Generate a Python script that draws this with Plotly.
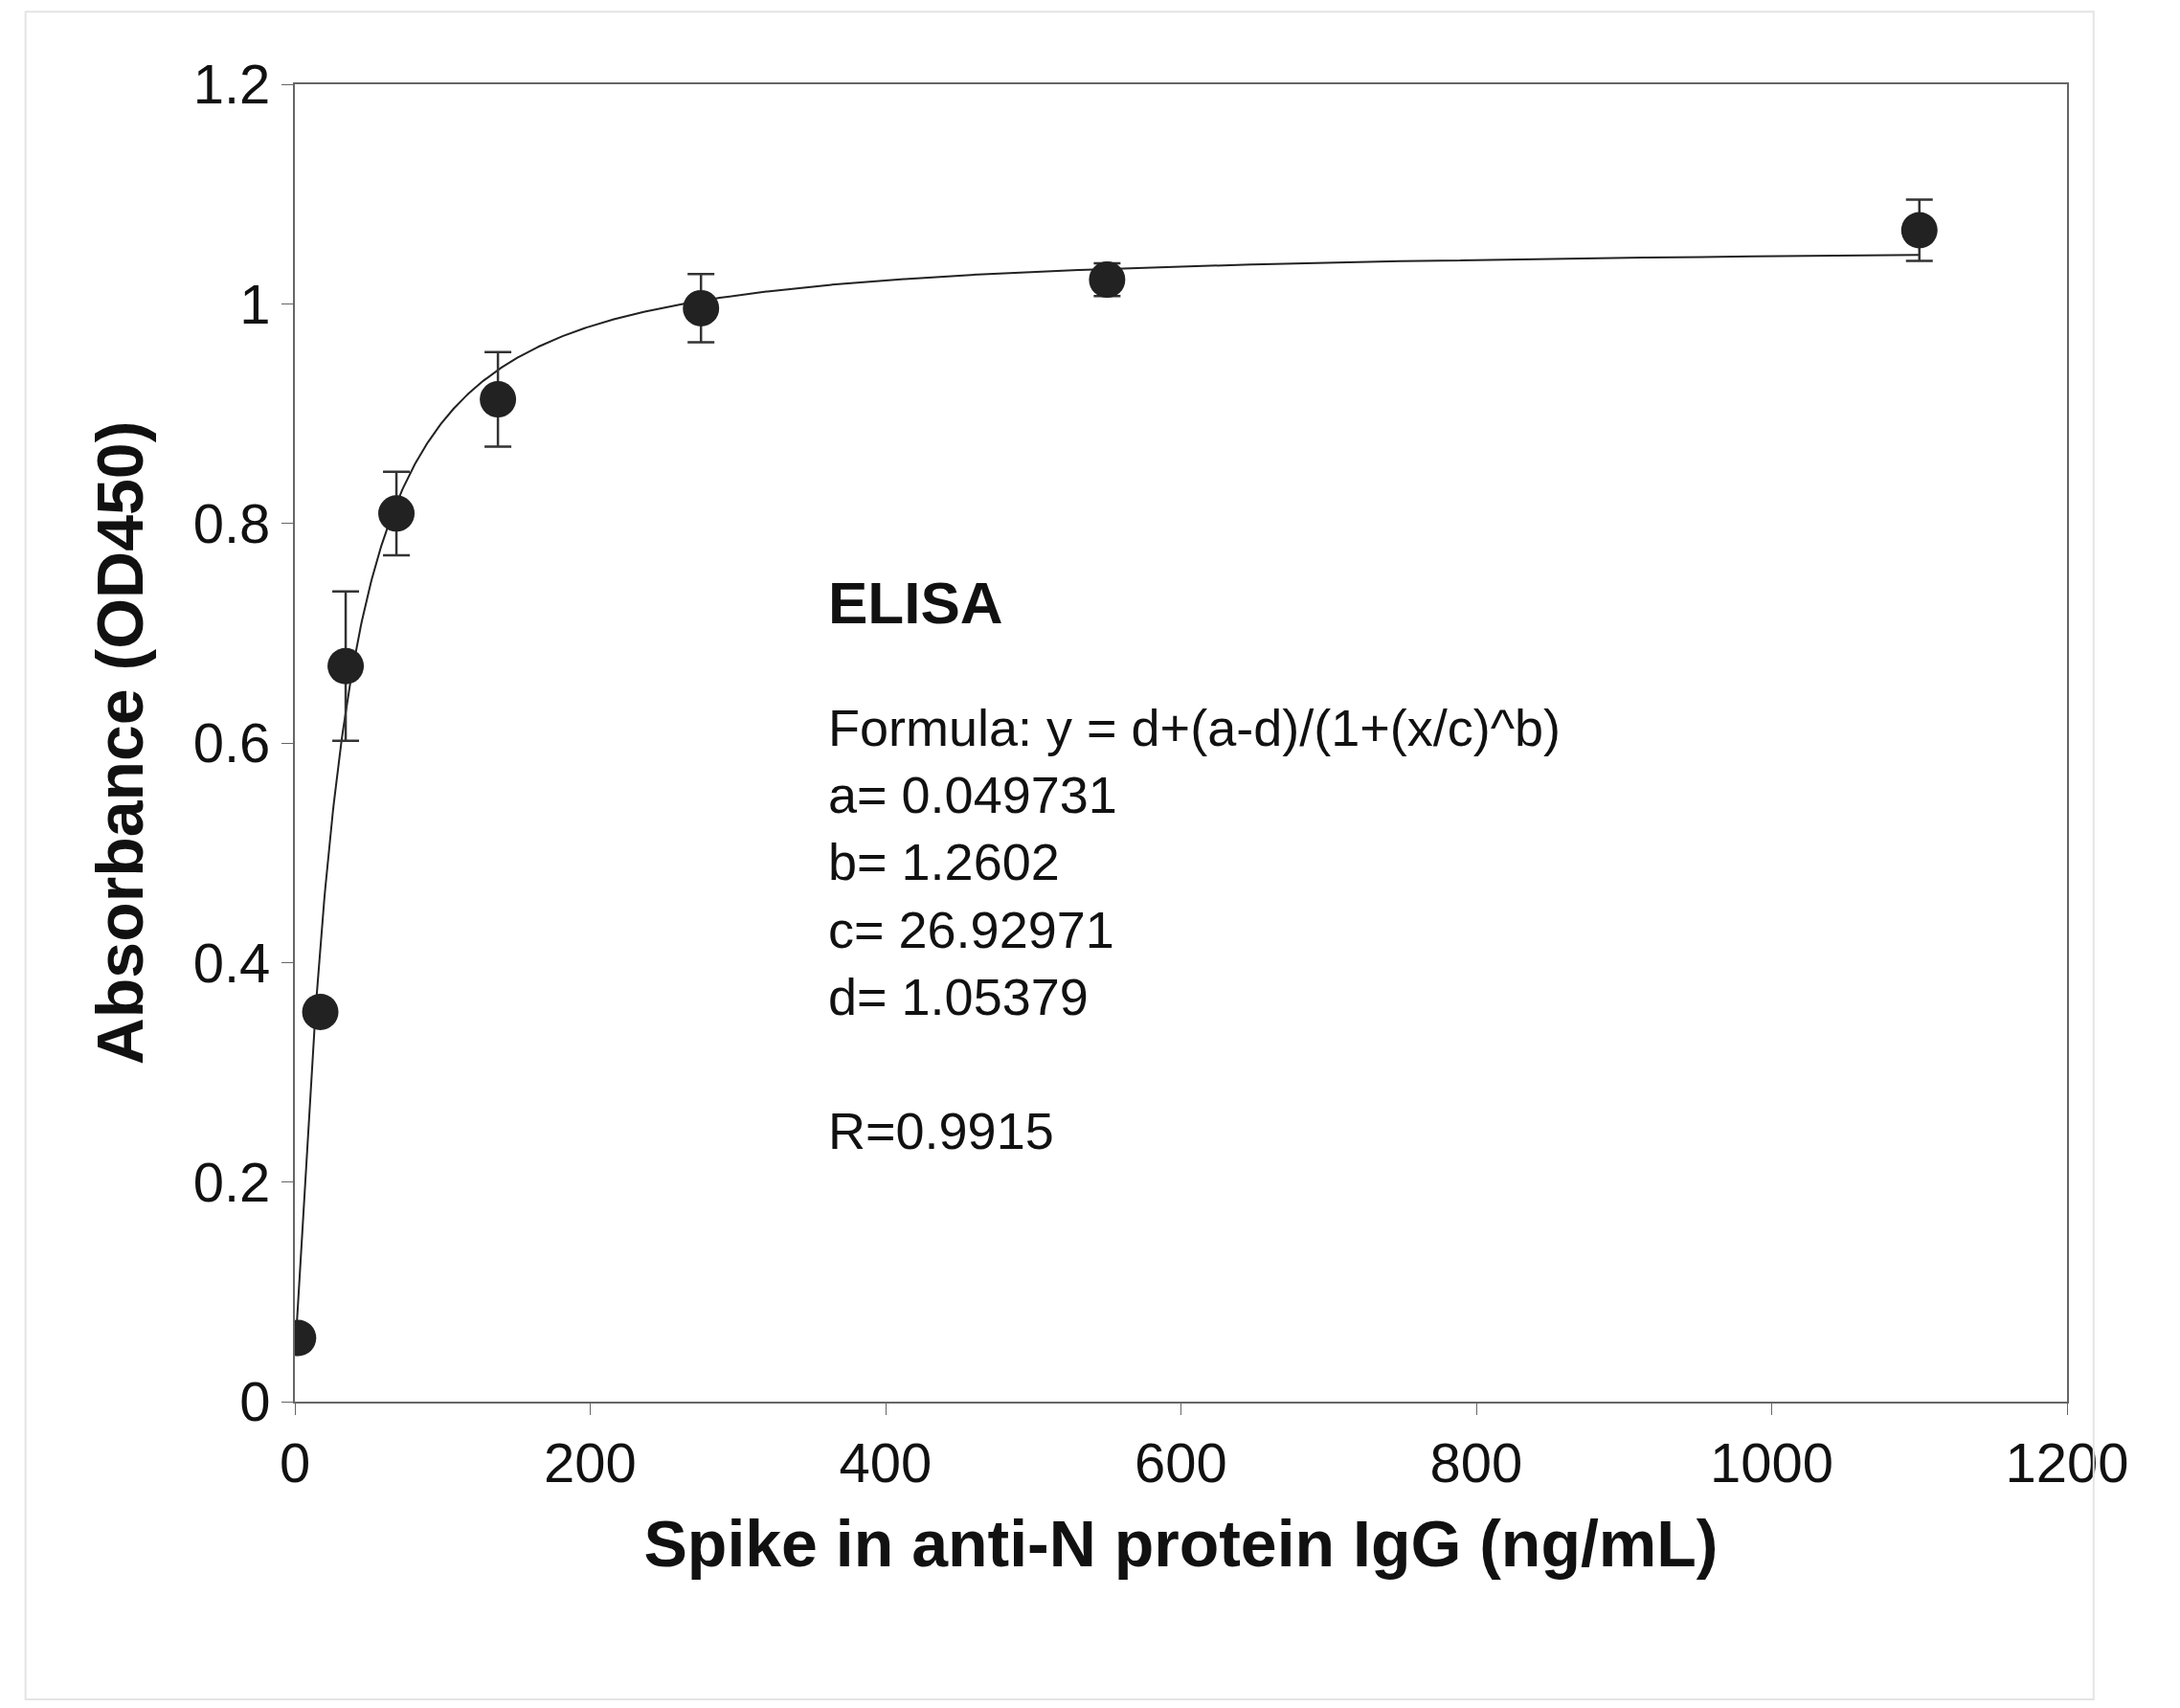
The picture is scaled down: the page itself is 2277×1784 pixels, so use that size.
import numpy as np
import plotly.graph_objects as go

conc = [2.15, 17.2, 34.4, 68.75, 137.5, 275, 550, 1100]
od = [0.058, 0.355, 0.670, 0.809, 0.913, 0.996, 1.022, 1.067]
err = [0.0, 0.0, 0.068, 0.038, 0.043, 0.031, 0.015, 0.028]
a, b, c, d = 0.049731, 1.2602, 26.92971, 1.05379

xf = np.linspace(0.0, 1100, 1500)
yf = d + (a - d) / (1 + (xf / c) ** b)

fig = go.Figure()
fig.add_trace(go.Scatter(x=xf, y=yf, mode="lines", line=dict(color="#222", width=2), hoverinfo="skip"))
fig.add_trace(go.Scatter(x=conc, y=od, mode="markers",
    marker=dict(color="#222", size=38),
    error_y=dict(type="data", array=err, color="#333", thickness=2.5, width=14)))

fnt = "Liberation Sans, Arial, sans-serif"
fig.add_annotation(x=360, y=0.728, xref="x", yref="y", text="<b>ELISA</b>", showarrow=False,
                   xanchor="left", yanchor="middle", font=dict(family=fnt, size=62, color="#111"))
fig.add_annotation(x=360, y=0.43, xref="x", yref="y",
    text="Formula: y = d+(a-d)/(1+(x/c)^b)<br>a= 0.049731<br>b= 1.2602<br>c= 26.92971<br>d= 1.05379<br><br>R=0.9915",
    showarrow=False, xanchor="left", yanchor="middle", align="left",
    font=dict(family=fnt, size=54, color="#111"))

fig.update_layout(width=2277, height=1784, showlegend=False, plot_bgcolor="white", paper_bgcolor="white",
    margin=dict(l=300, r=126, t=80, b=328), font=dict(family=fnt, color="#111"),
    shapes=[dict(type="rect", xref="paper", yref="paper", x0=-0.152, x1=1.015, y0=-0.226, y1=1.055,
                 line=dict(color="#e4e4e4", width=2))])
fig.update_xaxes(range=[0, 1200], dtick=200, ticks="outside", ticklen=12, tickcolor="#666",
    showline=True, linecolor="#666", linewidth=2, mirror=True, showgrid=False, zeroline=False,
    tickfont=dict(size=58), title=dict(text="<b>Spike in anti-N protein IgG (ng/mL)</b>", font=dict(size=68), standoff=30))
fig.update_yaxes(range=[0, 1.2], dtick=0.2, ticks="outside", ticklen=12, tickcolor="#666",
    showline=True, linecolor="#666", linewidth=2, mirror=True, showgrid=False, zeroline=False,
    tickfont=dict(size=58), title=dict(text="<b>Absorbance (OD450)</b>", font=dict(size=68), standoff=30))
fig.write_html("out.html")
